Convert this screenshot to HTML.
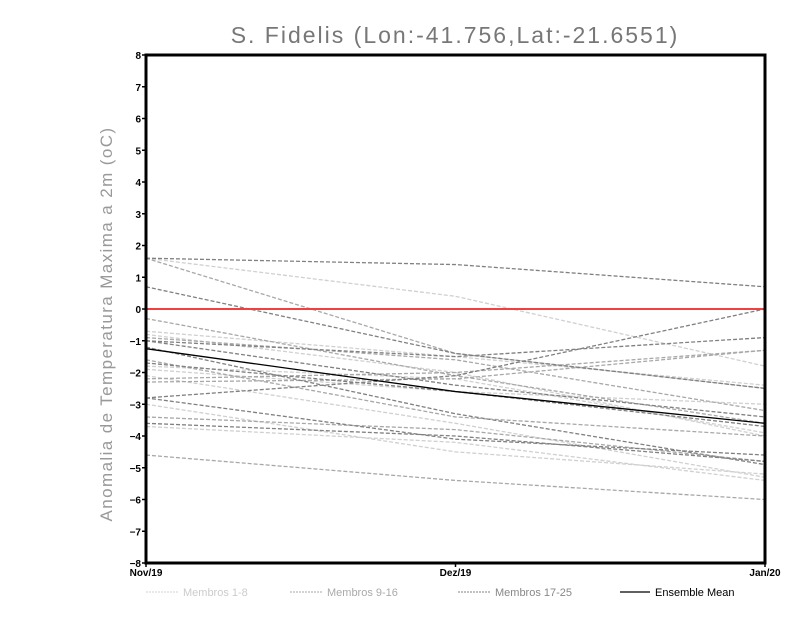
<!DOCTYPE html>
<html><head><meta charset="utf-8"><style>
html,body{margin:0;padding:0;background:#fff;}
svg{display:block;font-family:"Liberation Sans",sans-serif;}
</style></head><body>
<svg id="chart" width="800" height="618" viewBox="0 0 800 618" xmlns="http://www.w3.org/2000/svg">
<text x="455" y="43" text-anchor="middle" font-size="23" fill="#777" letter-spacing="2">S. Fidelis (Lon:-41.756,Lat:-21.6551)</text>
<text transform="translate(112,324) rotate(-90)" text-anchor="middle" font-size="17" fill="#999" letter-spacing="1.4">Anomalia de Temperatura Maxima a 2m (oC)</text>
<g id="marks"></g>
<g id="axes"></g>
<g font-size="11">
<line x1="146" y1="592" x2="178" y2="592" stroke="#d0d0d0" stroke-dasharray="2,1"/>
<text x="183" y="596" fill="#ccc">Membros 1-8</text>
<line x1="290" y1="592" x2="322" y2="592" stroke="#a8a8a8" stroke-dasharray="2,1"/>
<text x="327" y="596" fill="#aaa">Membros 9-16</text>
<line x1="458" y1="592" x2="490" y2="592" stroke="#808080" stroke-dasharray="2,1"/>
<text x="495" y="596" fill="#888">Membros 17-25</text>
<line x1="620" y1="592" x2="650" y2="592" stroke="#000" stroke-width="1.2"/>
<text x="655" y="596" fill="#000">Ensemble Mean</text>
</g>
</svg>
<script>
const months = ["Nov/19","Dez/19","Jan/20"];
const yTicks = [-8,-7,-6,-5,-4,-3,-2,-1,0,1,2,3,4,5,6,7,8];
const membersLight = [
 [1.6,0.4,-1.8],[-0.7,-1.5,-2.4],[-1.9,-2.6,-3.0],[-2.1,-3.6,-5.3],
 [-3.7,-4.2,-5.4],[-0.8,-2.0,-4.0],[-1.8,-2.2,-3.9],[-3.0,-4.5,-5.2]];
const membersMid = [
 [1.6,-1.4,-2.5],[-0.9,-1.6,-3.2],[-2.2,-2.0,-1.3],[-3.4,-3.8,-4.8],
 [-0.3,-2.1,-3.6],[-1.6,-3.4,-4.0],[-4.6,-5.4,-6.0],[-2.3,-2.2,-1.3]];
const membersDark = [
 [1.6,1.4,0.7],[0.7,-1.4,-2.5],[-1.0,-2.4,-3.4],[-2.8,-2.1,0.0],
 [-2.8,-4.1,-4.6],[-1.2,-3.3,-4.9],[-1.7,-2.6,-3.7],[-3.6,-4.0,-4.8],[-1.0,-1.5,-0.9]];
const ensembleMean = [-1.25,-2.6,-3.6];

const X0=146, X1=765, Y0=563, Y1=55;
const xScale = i => X0 + (X1-X0)*i/(months.length-1);
const yScale = v => Y0 - (v+8)/16*(Y0-Y1);
const NS="http://www.w3.org/2000/svg";
const marks=document.getElementById('marks');
const axes=document.getElementById('axes');
function mk(tag,attrs,parent){const e=document.createElementNS(NS,tag);for(const k in attrs)e.setAttribute(k,attrs[k]);parent.appendChild(e);return e;}
function line(vals,color,dash,w,name){
  const e=mk('polyline',{points:vals.map((v,i)=>xScale(i)+','+yScale(v)).join(' '),fill:'none',stroke:color,'stroke-width':w},marks);
  if(dash)e.setAttribute('stroke-dasharray',dash);
  
  
}
membersLight.forEach((s,i)=>line(s,'#d0d0d0','4,2',1.3,'member-light-'+(i+1)));
membersMid.forEach((s,i)=>line(s,'#a8a8a8','4,2',1.3,'member-mid-'+(i+9)));
membersDark.forEach((s,i)=>line(s,'#808080','4,2',1.3,'member-dark-'+(i+17)));
const zl=mk('line',{x1:X0,x2:X1,y1:yScale(0),y2:yScale(0),stroke:'#f04040','stroke-width':2},marks);


line(ensembleMean,'#000',null,1.3,'ensemble-mean-line');
const fr=mk('rect',{x:X0,y:Y1,width:X1-X0,height:Y0-Y1,fill:'none',stroke:'#000','stroke-width':3},axes);


yTicks.forEach(v=>{
  mk('line',{x1:X0-4,x2:X0,y1:yScale(v),y2:yScale(v),stroke:'#000','stroke-width':1.5},axes);
  const t=mk('text',{x:X0-5,y:yScale(v)+4,'text-anchor':'end','font-size':10,'font-weight':'bold',fill:'#000'},axes);
  t.textContent=(v<0?'\u2212':'')+Math.abs(v);
  
  
});
months.forEach((m,i)=>{
  mk('line',{x1:xScale(i),x2:xScale(i),y1:Y0,y2:Y0+4,stroke:'#000','stroke-width':1.5},axes);
  const t=mk('text',{x:xScale(i),y:Y0+13,'text-anchor':'middle','font-size':10,'font-weight':'bold',fill:'#000'},axes);
  t.textContent=m;
  
  
});
</script>
</body></html>
